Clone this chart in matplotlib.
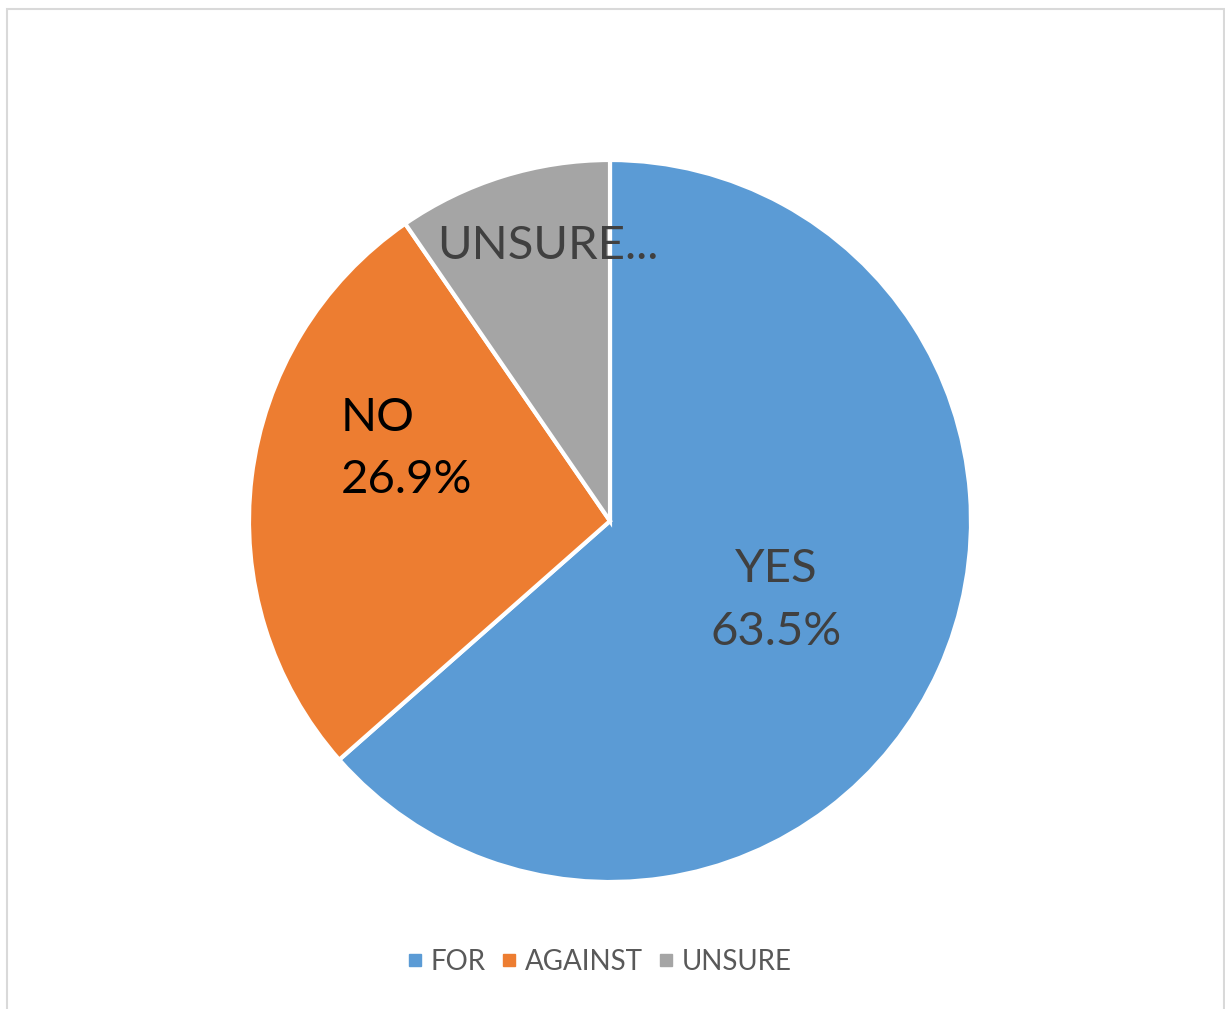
import matplotlib
matplotlib.use("Agg")
import matplotlib.pyplot as plt
from matplotlib.patches import Rectangle
from matplotlib.lines import Line2D

categories = ["FOR", "AGAINST", "UNSURE"]
slice_labels = ["YES", "NO", "UNSURE"]
values = [63.5, 26.9, 9.6]
colors = ["#5B9BD5", "#ED7D31", "#A5A5A5"]

plt.rcParams['font.family'] = ['Lato', 'DejaVu Sans']

W, H = 1225, 1009
fig = plt.figure(figsize=(W / 100, H / 100), dpi=100)

# chart border
fig.patches.append(Rectangle((7 / W, -0.01), (1224 - 7) / W, (H - 9) / H + 0.01,
                             transform=fig.transFigure, fill=False,
                             edgecolor="#D9D9D9", linewidth=1.5))

cx, cy, r = 610, 521, 361
ax = fig.add_axes([(cx - r) / W, (H - cy - r) / H, 2 * r / W, 2 * r / H])
ax.pie(values, colors=colors, startangle=90, counterclock=False, radius=1,
       wedgeprops=dict(edgecolor="white", linewidth=3))
ax.set_xlim(-1, 1)
ax.set_ylim(-1, 1)
ax.set_aspect("equal")
ax.axis("off")

fs = 34
ax.text(0.46, -0.22, f"{slice_labels[0]}\n{values[0]}%", ha="center", va="center",
        fontsize=fs, color="#404040", linespacing=1.6)
ax.text(-0.745, 0.20, f"{slice_labels[1]}\n{values[1]}%", ha="left", va="center",
        fontsize=fs, color="#000000", linespacing=1.6)
ax.text(-0.48, 0.763, f"{slice_labels[2]}...", ha="left", va="center",
        fontsize=fs, color="#404040")

handles = [Line2D([0], [0], marker="s", linestyle="none", markersize=9,
                  markerfacecolor=c, markeredgecolor=c) for c in colors]
fig.legend(handles, categories, loc="center", bbox_to_anchor=(598 / W, 1 - 962 / H),
           ncol=3, frameon=False, fontsize=20, labelcolor="#595959",
           handletextpad=0.15, columnspacing=0.45, handlelength=0.8)

fig.savefig("out.png", dpi=100)
